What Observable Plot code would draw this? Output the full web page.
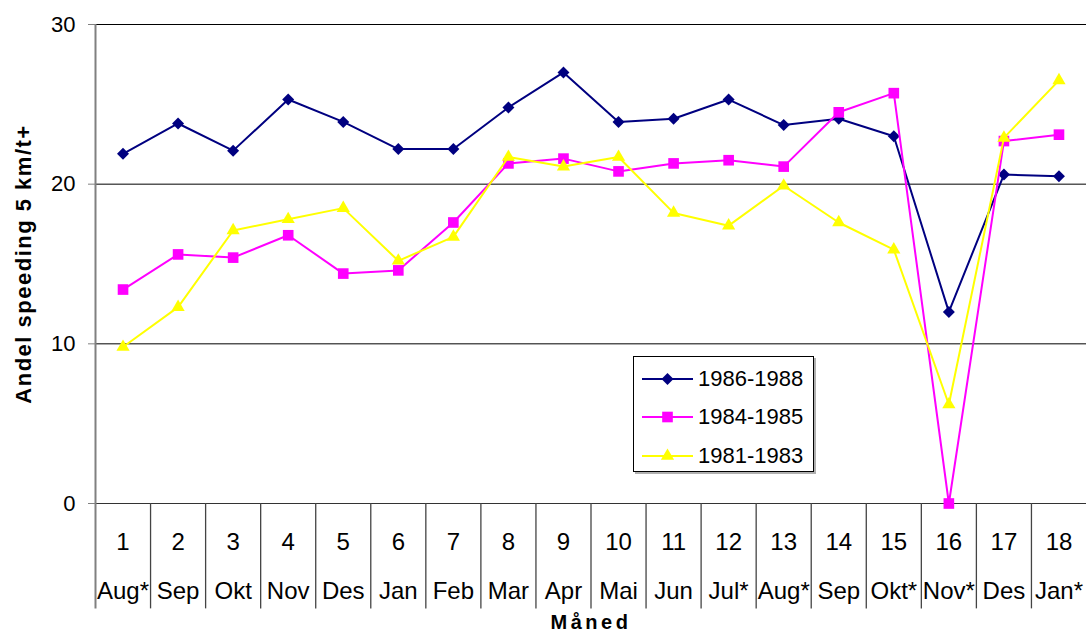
<!DOCTYPE html>
<html><head><meta charset="utf-8">
<script src="https://cdn.jsdelivr.net/npm/d3@7"></script>
<script src="https://cdn.jsdelivr.net/npm/@observablehq/plot@0.6"></script>
<style>
body{margin:0;background:#fff;font-family:"Liberation Sans",Arial,sans-serif;}
#wrap{position:relative;width:1086px;height:632px;overflow:hidden;}
#legend{position:absolute;left:633px;top:356px;width:179px;height:114px;border:1px solid #000;background:#fff;box-shadow:2px 2px 0 #b0b0b0;}
.row{position:absolute;left:0;height:38px;display:flex;align-items:center;}
.row span{font-size:22px;margin-left:5px;color:#000;}
.row svg{display:block;margin-left:8px;}
</style></head>
<body><div id="wrap"></div>
<script>
// ---- data ----
const periods = [1,2,3,4,5,6,7,8,9,10,11,12,13,14,15,16,17,18];
const months = ["Aug*","Sep","Okt","Nov","Des","Jan","Feb","Mar","Apr","Mai","Jun","Jul*","Aug*","Sep","Okt*","Nov*","Des","Jan*"];
const s1986 = [21.9,23.8,22.1,25.3,23.9,22.2,22.2,24.8,27.0,23.9,24.1,25.3,23.7,24.1,23.0,12.0,20.6,20.5];
const s1984 = [13.4,15.6,15.4,16.8,14.4,14.6,17.6,21.3,21.6,20.8,21.3,21.5,21.1,24.5,25.7,0.0,22.7,23.1];
const s1981 = [9.8,12.3,17.1,17.8,18.5,15.2,16.7,21.7,21.1,21.7,18.2,17.4,19.9,17.6,15.9,6.2,22.9,26.5];
const seriesNames = ["1986-1988","1984-1985","1981-1983"];
const seriesColors = ["#000080","#FF00FF","#FFFF00"];
const seriesSymbols = ["diamond2","square","triangle"];
const seriesR = [5.4,6.0,4.9];
const yTicks = [0,10,20,30];

const seriesValues = [s1986, s1984, s1981];
const tables = seriesValues.map((vals, i) => periods.map((p, j) => ({period: p, value: vals[j], series: seriesNames[i]})));
const catLabels = periods.map((p, j) => ({period: p, num: String(p), month: months[j]}));
const bounds = periods.slice(0, -1).map(p => p + 0.5);

const marks = [
  Plot.ruleY([10,20,30], {stroke: "#000", strokeWidth: 1}),
  Plot.ruleY([0], {stroke: "#333", strokeWidth: 1.2}),
  Plot.ruleX(bounds, {y1: 0, y2: -6.6, stroke: "#444", strokeWidth: 1.3}),
  Plot.ruleX([0.5], {y1: 30, y2: -6.6, stroke: "#808080", strokeWidth: 2}),
  Plot.axisY({ticks: yTicks, tickSize: 7, tickPadding: 13, fontSize: 22, stroke: "#808080", fill: "#000", label: null}),
  Plot.text(catLabels, {x: "period", text: "num", frameAnchor: "bottom", lineAnchor: "middle", dy: 39, fontSize: 24, fill: "#000"}),
  Plot.text(catLabels, {x: "period", text: "month", frameAnchor: "bottom", lineAnchor: "middle", dy: 88, fontSize: 24, fill: "#000"}),
  Plot.text(["Måned"], {frameAnchor: "bottom", lineAnchor: "middle", dy: 119, fontSize: 20, fontWeight: "bold", fill: "#000"}),
  Plot.text(["Andel speeding 5 km/t+"], {frameAnchor: "left", textAnchor: "middle", lineAnchor: "middle", dx: -72, rotate: -90, fontSize: 22, fontWeight: "bold", fill: "#000"})
];
tables.forEach((t, i) => {
  marks.push(Plot.line(t, {x: "period", y: "value", stroke: seriesColors[i], strokeWidth: 2}));
  marks.push(Plot.dot(t, {x: "period", y: "value", symbol: () => seriesSymbols[i], r: seriesR[i], fill: seriesColors[i], stroke: "none"}));
});

const chart = Plot.plot({
  width: 1086,
  height: 632,
  marginLeft: 95,
  marginRight: 0,
  marginTop: 24,
  marginBottom: 129,
  style: {fontFamily: "'Liberation Sans', Arial, sans-serif", fontSize: "22px", background: "#fff", color: "#000", overflow: "visible"},
  x: {type: "linear", domain: [0.5, 18.5], axis: null},
  y: {domain: [0, 30], axis: null},
  symbol: {type: "identity"},
  marks
});
document.getElementById("wrap").appendChild(chart);

d3.select(chart).selectAll("text").filter(function(){ return this.textContent === "Måned"; }).attr("letter-spacing", "3.5px");
d3.select(chart).selectAll("text").filter(function(){ return this.textContent === "Andel speeding 5 km/t+"; }).attr("letter-spacing", "1.5px");

// ---- legend (HTML overlay) ----
const legend = document.createElement("div");
legend.id = "legend";
const rowTops = [3, 41, 80];
seriesNames.forEach((name, i) => {
  const row = document.createElement("div");
  row.className = "row";
  row.style.top = rowTops[i] + "px";
  const sw = d3.create("svg").attr("width", 51).attr("height", 20);
  sw.append("line").attr("x1", 0).attr("x2", 51).attr("y1", 10).attr("y2", 10).attr("stroke", seriesColors[i]).attr("stroke-width", 2);
  const symMap = {diamond2: d3.symbolDiamond2, square: d3.symbolSquare, triangle: d3.symbolTriangle};
  sw.append("path").attr("transform", "translate(25.5,10)")
    .attr("d", d3.symbol(symMap[seriesSymbols[i]], Math.PI * seriesR[i] * seriesR[i])())
    .attr("fill", seriesColors[i]);
  row.appendChild(sw.node());
  const sp = document.createElement("span");
  sp.textContent = name;
  row.appendChild(sp);
  legend.appendChild(row);
});
document.getElementById("wrap").appendChild(legend);
</script>
</body></html>
